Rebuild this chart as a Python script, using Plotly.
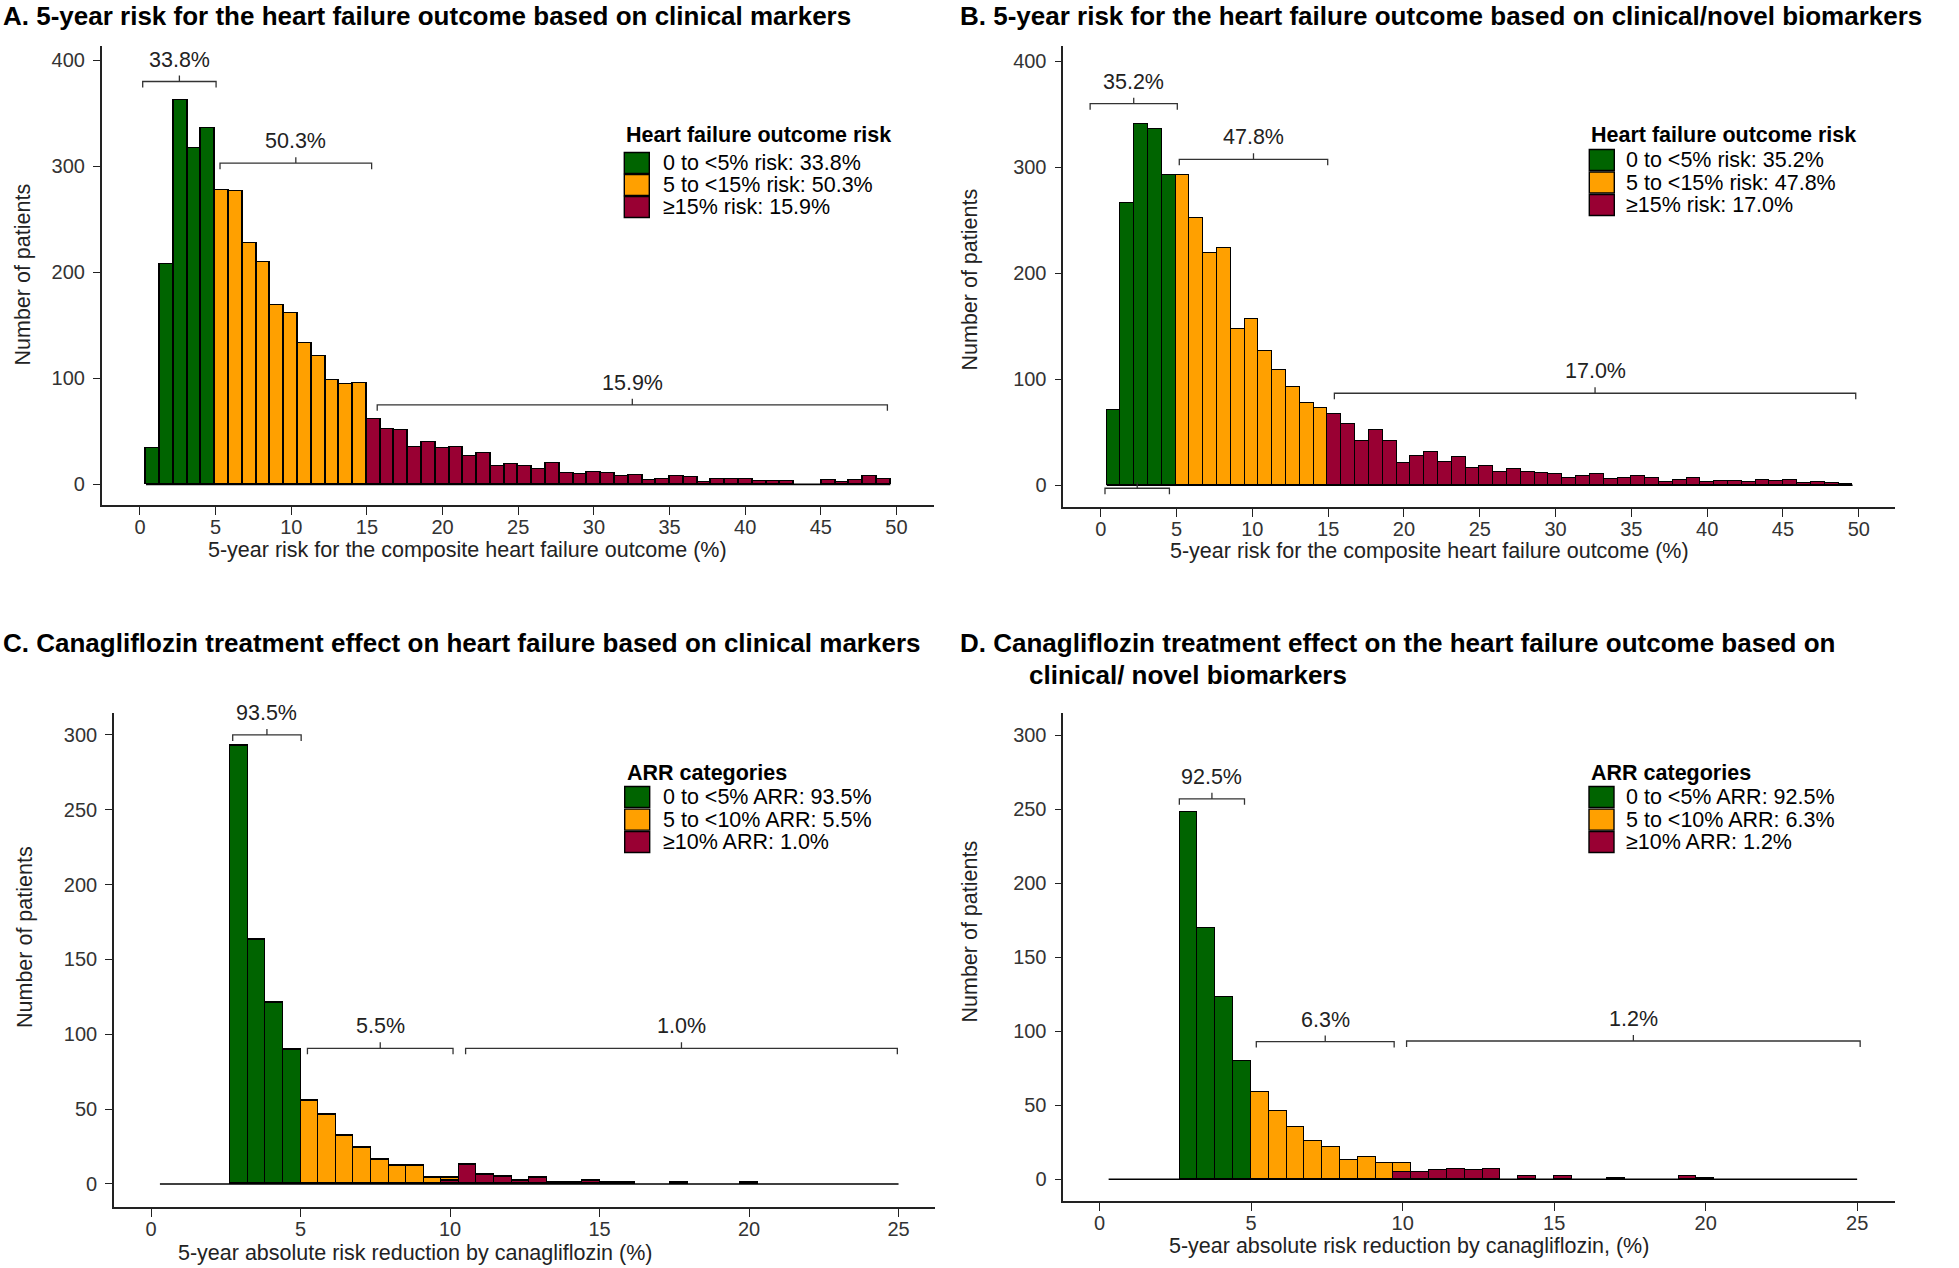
import plotly.graph_objects as go

W, H = 1959, 1268
GREEN, ORANGE, RED = "#006400", "#FFA000", "#990033"
FONT = "Liberation Sans, Arial, sans-serif"
TXT = "#222222"

# ---------------- data ----------------
# Panel A: 5-year heart failure risk, clinical markers
A_bin_start = 0.4
A_bin_width = 0.911
A_n_bins = 54
A_green_first = 0
A_green = [34, 208, 363, 317, 336]
A_orange_first = 5
A_orange = [278, 277, 228, 210, 169, 162, 133, 121, 98, 95, 96]
A_red_first = 16
A_red = [62, 52, 51, 35, 40, 34, 35, 27, 30, 17, 19, 17, 14, 20, 11, 10, 12, 11, 8, 9,
         4, 5, 8, 7, 2, 5, 5, 5, 3, 3, 3, 0, 0, 4, 2, 4, 8, 5]
A_legend_title = "Heart failure outcome risk"
A_legend_labels = ["0 to <5% risk: 33.8%", "5 to <15% risk: 50.3%", "≥15% risk: 15.9%"]
A_bracket_from = [0.18, 5.29, 15.68]
A_bracket_to = [5.03, 15.31, 49.4]
A_bracket_y = [380, 303, 75]
A_bracket_labels = ["33.8%", "50.3%", "15.9%"]

# Panel B: 5-year heart failure risk, clinical/novel biomarkers
B_bin_start = 0.4
B_bin_width = 0.911
B_n_bins = 54
B_green_first = 0
B_green = [71, 266, 341, 336, 293]
B_orange_first = 5
B_orange = [293, 252, 219, 224, 147, 157, 127, 109, 93, 78, 73]
B_red_first = 16
B_red = [67, 58, 42, 52, 42, 21, 28, 31, 22, 27, 16, 18, 13, 15, 13, 12, 11, 7, 9, 11,
         6, 7, 9, 7, 3, 5, 7, 3, 4, 4, 3, 5, 4, 5, 2, 3, 2, 1]
B_legend_title = "Heart failure outcome risk"
B_legend_labels = ["0 to <5% risk: 35.2%", "5 to <15% risk: 47.8%", "≥15% risk: 17.0%"]
B_bracket_from = [-0.7, 5.18, 15.41, 0.28]
B_bracket_to = [5.05, 14.97, 49.8, 4.53]
B_bracket_y = [360, 307.5, 86.8, -2.8]
B_bracket_labels = ["35.2%", "47.8%", "17.0%", ""]

# Panel C: canagliflozin ARR, clinical markers
C_bin_start = 0.296
C_bin_width = 0.5882
C_n_bins = 42
C_green_first = 4
C_green = [293, 163, 121, 90]
C_orange_first = 8
C_orange = [56, 46, 32, 24, 16, 12, 12, 4, 2]
C_red_first = 16
C_red = [2, 13, 6, 5, 2, 4, 1, 1, 2, 1, 1, 0, 0, 1, 0, 0, 0, 1]
C_legend_title = "ARR categories"
C_legend_labels = ["0 to <5% ARR: 93.5%", "5 to <10% ARR: 5.5%", "≥10% ARR: 1.0%"]
C_bracket_from = [2.73, 5.23, 10.52]
C_bracket_to = [5.02, 10.1, 24.96]
C_bracket_y = [300, 90.6, 90.6]
C_bracket_labels = ["93.5%", "5.5%", "1.0%"]

# Panel D: canagliflozin ARR, clinical/novel biomarkers
D_bin_start = 0.296
D_bin_width = 0.5882
D_n_bins = 42
D_green_first = 4
D_green = [248, 170, 123, 80]
D_orange_first = 8
D_orange = [59, 46, 35, 26, 22, 13, 15, 11, 6]
D_red_first = 16
D_red = [5, 5, 6, 7, 6, 7, 0, 2, 0, 2, 0, 0, 1, 0, 0, 0, 2, 1]
D_legend_title = "ARR categories"
D_legend_labels = ["0 to <5% ARR: 92.5%", "5 to <10% ARR: 6.3%", "≥10% ARR: 1.2%"]
D_bracket_from = [2.63, 5.17, 10.13]
D_bracket_to = [4.78, 9.72, 25.1]
D_bracket_y = [257, 93, 93.4]
D_bracket_labels = ["92.5%", "6.3%", "1.2%"]

A_x_ticks = list(range(0, 55, 5)); A_y_ticks = list(range(0, 401, 100))
C_x_ticks = list(range(0, 26, 5)); C_y_ticks = list(range(0, 301, 50))

# ---------------- layout (pixel geometry of the picture) ----------------
PANELS = [
    dict(d=dict(start=A_bin_start, w=A_bin_width, n=A_n_bins,
                series=[(A_red_first, A_red, RED), (A_orange_first, A_orange, ORANGE), (A_green_first, A_green, GREEN)],
                leg_title=A_legend_title, leg_labels=A_legend_labels,
                br=(A_bracket_from, A_bracket_to, A_bracket_y, A_bracket_labels),
                xt=A_x_ticks, yt=A_y_ticks),
         px=(101.7, 934, 46, 505), xr=(-2.53, 52.48), yr=(-19.5, 413.5),
         title=[("A. 5-year risk for the heart failure outcome based on clinical markers", 1, 16)],
         xtitle=("5-year risk for the composite heart failure outcome (%)", 467, 550),
         ytitle=("Number of patients", 22.5, 275),
         leg=dict(sw_x=624.3, txt_x=661, title_y=135, rows=[163, 185, 207])),
    dict(d=dict(start=B_bin_start, w=B_bin_width, n=B_n_bins,
                series=[(B_red_first, B_red, RED), (B_orange_first, B_orange, ORANGE), (B_green_first, B_green, GREEN)],
                leg_title=B_legend_title, leg_labels=B_legend_labels,
                br=(B_bracket_from, B_bracket_to, B_bracket_y, B_bracket_labels),
                xt=A_x_ticks, yt=A_y_ticks),
         px=(1063.3, 1895, 46, 506.7), xr=(-2.47, 52.39), yr=(-20.2, 414.4),
         title=[("B. 5-year risk for the heart failure outcome based on clinical/novel biomarkers", 958, 16)],
         xtitle=("5-year risk for the composite heart failure outcome (%)", 1429, 551),
         ytitle=("Number of patients", 969.5, 280),
         leg=dict(sw_x=1589.3, txt_x=1624, title_y=135, rows=[160, 182.5, 205])),
    dict(d=dict(start=C_bin_start, w=C_bin_width, n=C_n_bins,
                series=[(C_red_first, C_red, RED), (C_orange_first, C_orange, ORANGE), (C_green_first, C_green, GREEN)],
                leg_title=C_legend_title, leg_labels=C_legend_labels,
                br=(C_bracket_from, C_bracket_to, C_bracket_y, C_bracket_labels),
                xt=C_x_ticks, yt=C_y_ticks),
         px=(114, 935, 712.6, 1206.7), xr=(-1.24, 26.22), yr=(-15.2, 314.9),
         title=[("C. Canagliflozin treatment effect on heart failure based on clinical markers", 1, 643)],
         xtitle=("5-year absolute risk reduction by canagliflozin (%)", 415, 1253),
         ytitle=("Number of patients", 25, 937),
         leg=dict(sw_x=624.7, txt_x=661, title_y=773.4, rows=[797, 819.6, 842])),
    dict(d=dict(start=D_bin_start, w=D_bin_width, n=D_n_bins,
                series=[(D_red_first, D_red, RED), (D_orange_first, D_orange, ORANGE), (D_green_first, D_green, GREEN)],
                leg_title=D_legend_title, leg_labels=D_legend_labels,
                br=(D_bracket_from, D_bracket_to, D_bracket_y, D_bracket_labels),
                xt=C_x_ticks, yt=C_y_ticks),
         px=(1063.3, 1895, 713, 1201.3), xr=(-1.2, 26.25), yr=(-14.9, 315),
         title=[("D. Canagliflozin treatment effect on the heart failure outcome based on", 958, 643),
                ("clinical/ novel biomarkers", 1027, 674.6)],
         xtitle=("5-year absolute risk reduction by canagliflozin, (%)", 1409, 1246),
         ytitle=("Number of patients", 969.5, 932),
         leg=dict(sw_x=1589, txt_x=1624, title_y=773.4, rows=[797, 819.6, 842])),
]


def pxx(p):
    return p / W


def pxy(p):
    return 1 - p / H


fig = go.Figure()
shapes, annots = [], []
layout = {}

for i, P in enumerate(PANELS, start=1):
    d = P["d"]
    xa, ya = ("x" if i == 1 else f"x{i}"), ("y" if i == 1 else f"y{i}")
    xkey, ykey = ("xaxis" if i == 1 else f"xaxis{i}"), ("yaxis" if i == 1 else f"yaxis{i}")
    x0p, x1p, y0p, y1p = P["px"]
    upp = (P["yr"][1] - P["yr"][0]) / (y1p - y0p)   # y data units per pixel

    # baseline across all bins (empty bins drawn as a flat line)
    fig.add_trace(go.Scatter(x=[d["start"], d["start"] + d["n"] * d["w"]], y=[0, 0], mode="lines",
                             line=dict(color="black", width=1.6), xaxis=xa, yaxis=ya,
                             showlegend=False, hoverinfo="skip"))
    for first, vals, col in d["series"]:
        xs = [d["start"] + (first + k + 0.5) * d["w"] for k in range(len(vals))]
        ys = [v if v > 0 else None for v in vals]
        fig.add_trace(go.Bar(x=xs, y=ys, width=d["w"], xaxis=xa, yaxis=ya, showlegend=False,
                             marker=dict(color=col, line=dict(color="black", width=1.5))))

    # brackets
    bf, bt, by, bl = d["br"]
    t = 6 * upp
    for a, b, yv, lab in zip(bf, bt, by, bl):
        m = (a + b) / 2
        path = (f"M {a},{yv - t} L {a},{yv} L {b},{yv} L {b},{yv - t} "
                f"M {m},{yv} L {m},{yv + t}")
        shapes.append(dict(type="path", path=path, xref=xa, yref=ya,
                           line=dict(color="#333333", width=1.3)))
        if lab:
            annots.append(dict(x=m, y=yv, xref=xa, yref=ya, text=lab, showarrow=False,
                               yanchor="bottom", xanchor="center", yshift=8,
                               font=dict(family=FONT, size=21.5, color=TXT)))

    # axes
    common = dict(showgrid=False, zeroline=False, showline=True, linecolor="#222222", linewidth=1.6,
                  ticks="outside", tickcolor="#222222", tickwidth=1.4,
                  tickfont=dict(family=FONT, size=20, color="#333333"))
    layout[xkey] = dict(domain=[pxx(x0p), pxx(x1p)], range=list(P["xr"]), anchor=ya,
                        tickvals=d["xt"], ticklen=8, ticklabelstandoff=-5, **common)
    layout[ykey] = dict(domain=[pxy(y1p), pxy(y0p)], range=list(P["yr"]), anchor=xa,
                        tickvals=d["yt"], ticklen=7, ticklabelstandoff=4, **common)

    # panel titles
    for txt, lx, ly in P["title"]:
        annots.append(dict(x=pxx(lx), y=pxy(ly), xref="paper", yref="paper", text=f"<b>{txt}</b>",
                           showarrow=False, xanchor="left", yanchor="middle",
                           font=dict(family=FONT, size=26, color="black")))
    txt, cx, cy = P["xtitle"]
    annots.append(dict(x=pxx(cx), y=pxy(cy), xref="paper", yref="paper", text=txt, showarrow=False,
                       xanchor="center", yanchor="middle", font=dict(family=FONT, size=21.5, color=TXT)))
    txt, cx, cy = P["ytitle"]
    annots.append(dict(x=pxx(cx), y=pxy(cy), xref="paper", yref="paper", text=txt, showarrow=False,
                       textangle=-90, xanchor="center", yanchor="middle",
                       font=dict(family=FONT, size=21.5, color=TXT)))

    # legend (drawn manually)
    L = P["leg"]
    annots.append(dict(x=pxx(L["sw_x"]), y=pxy(L["title_y"]), xref="paper", yref="paper",
                       text=f"<b>{d['leg_title']}</b>", showarrow=False, xanchor="left", yanchor="middle",
                       font=dict(family=FONT, size=21.5, color="black")))
    for (_, _, col), lab, ry in zip(d["series"][::-1], d["leg_labels"], L["rows"]):
        shapes.append(dict(type="rect", xref="paper", yref="paper",
                           x0=pxx(L["sw_x"]), x1=pxx(L["sw_x"] + 25), y0=pxy(ry + 10.5), y1=pxy(ry - 10.5),
                           fillcolor=col, line=dict(color="black", width=1.4)))
        annots.append(dict(x=pxx(L["txt_x"]), y=pxy(ry), xref="paper", yref="paper", text=lab,
                           showarrow=False, xanchor="left", yanchor="middle",
                           font=dict(family=FONT, size=21.5, color="black")))

fig.update_layout(width=W, height=H, margin=dict(l=0, r=0, t=0, b=0, pad=0),
                  paper_bgcolor="white", plot_bgcolor="white", barmode="stack", bargap=0,
                  showlegend=False, shapes=shapes, annotations=annots, **layout)
fig.write_html("out.html", config={"displayModeBar": False},
               post_script="document.body.style.margin='0';document.body.style.overflow='hidden';")
